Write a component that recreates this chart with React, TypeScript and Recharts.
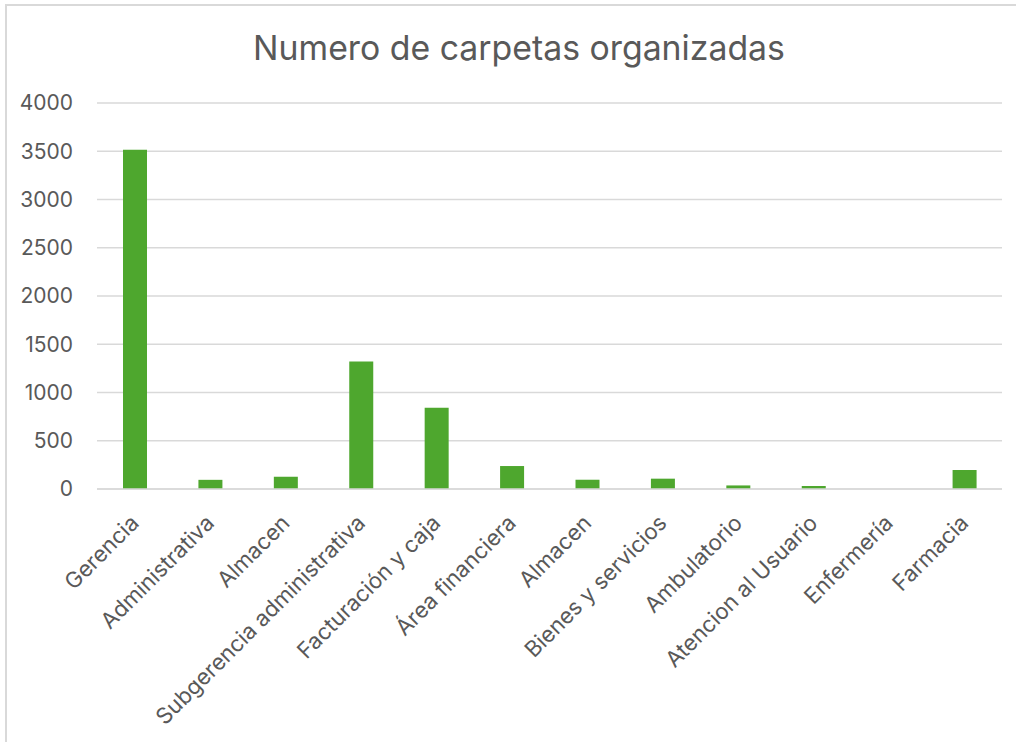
import React from "react";
import { BarChart, Bar, XAxis, YAxis, CartesianGrid } from "recharts";

const categories = [
  "Gerencia",
  "Administrativa",
  "Almacen",
  "Subgerencia administrativa",
  "Facturación y caja",
  "Área financiera",
  "Almacen",
  "Bienes y servicios",
  "Ambulatorio",
  "Atencion al Usuario",
  "Enfermería",
  "Farmacia",
];
const carpetas = [3515, 95, 127, 1320, 843, 238, 96, 107, 37, 31, 0, 197];
const yTicks = [0, 500, 1000, 1500, 2000, 2500, 3000, 3500, 4000];
const title = "Numero de carpetas organizadas";

const data = categories.map((name, i) => ({ key: i, name, value: carpetas[i] }));

const FONT = "Inter, 'Open Sans', sans-serif";
const TEXT = "#595959";

const XTick = (props: any) => {
  const { x, y, payload } = props;
  const label = categories[payload.value];
  return (
    <g transform={`translate(${x},${y})`}>
      <text
        x={0}
        y={0}
        dy="0.35em"
        textAnchor="end"
        transform="rotate(-45)"
        fill={TEXT}
        fontSize={22.2}
        fontFamily={FONT}
      >
        {label}
      </text>
    </g>
  );
};

export default function App() {
  return (
    <div
      style={{
        position: "absolute",
        left: 5,
        top: 4,
        width: 1030,
        height: 760,
        borderTop: "2px solid #d9d9d9",
        borderLeft: "2px solid #d9d9d9",
        background: "#fff",
        overflow: "hidden",
      }}
    >
      <div
        style={{
          position: "absolute",
          left: 0,
          top: 22,
          width: 1024,
          textAlign: "center",
          fontFamily: FONT,
          fontSize: 33.8,
          color: TEXT,
          lineHeight: "40px",
        }}
      >
        {title}
      </div>
      <div style={{ position: "absolute", left: 0, top: 0 }}>
        <BarChart
          width={1008}
          height={736}
          data={data}
          margin={{ top: 97, right: 13, left: 0, bottom: 0 }}
          barSize={24}
        >
          <CartesianGrid vertical={false} stroke="#d9d9d9" strokeWidth={1.5} />
          <XAxis
            dataKey="key"
            type="category"
            height={253}
            axisLine={{ stroke: "#d9d9d9", strokeWidth: 1.5 }}
            tickLine={false}
            interval={0}
            tick={<XTick />}
            tickSize={0}
            tickMargin={30}
          />
          <YAxis
            width={90}
            domain={[0, 4000]}
            ticks={yTicks}
            axisLine={false}
            tickLine={false}
            tickSize={0}
            tickMargin={24}
            tick={{ fill: TEXT, fontSize: 21, fontFamily: FONT }}
          />
          <Bar dataKey="value" fill="#4EA72E" isAnimationActive={false} />
        </BarChart>
      </div>
    </div>
  );
}
